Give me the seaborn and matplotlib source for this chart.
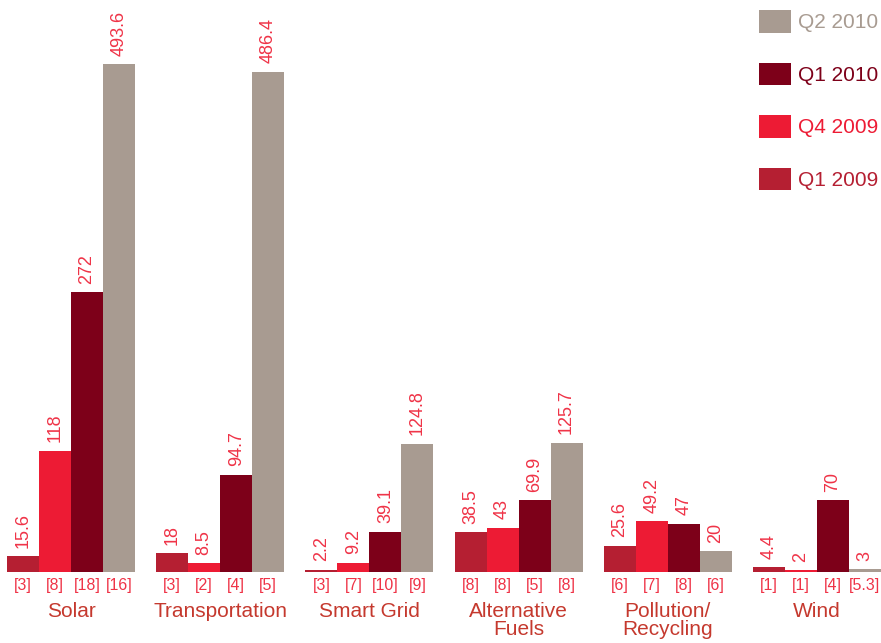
import matplotlib
matplotlib.use("Agg")
import matplotlib.pyplot as plt
import seaborn as sns
import pandas as pd
from matplotlib.patches import Patch

# ---- data ----
categories = ["Solar", "Transportation", "Smart Grid", "Alternative\nFuels", "Pollution/\nRecycling", "Wind"]
series = ["Q1 2009", "Q4 2009", "Q1 2010", "Q2 2010"]
q1_2009 = [15.6, 18, 2.2, 38.5, 25.6, 4.4]
q4_2009 = [118, 8.5, 9.2, 43, 49.2, 2]
q1_2010 = [272, 94.7, 39.1, 69.9, 47, 70]
q2_2010 = [493.6, 486.4, 124.8, 125.7, 20, 3]
n_q1_2009 = ["3", "3", "3", "8", "6", "1"]
n_q4_2009 = ["8", "2", "7", "8", "7", "1"]
n_q1_2010 = ["18", "4", "10", "5", "8", "4"]
n_q2_2010 = ["16", "5", "9", "8", "6", "5.3"]

values = [q1_2009, q4_2009, q1_2010, q2_2010]
counts = [n_q1_2009, n_q4_2009, n_q1_2010, n_q2_2010]
colors = ["#b51f32", "#ed1b34", "#7d0019", "#a89b91"]

rows = []
for s, vals in zip(series, values):
    for c, v in zip(categories, vals):
        rows.append({"category": c, "series": s, "value": v})
df = pd.DataFrame(rows)

sns.set_style("white")
plt.rcParams["font.family"] = ["Liberation Sans", "DejaVu Sans"]

fig = plt.figure(figsize=(8.81, 6.43), dpi=100)
ax = fig.add_axes([0, 71 / 643, 1, 572 / 643])

sns.barplot(data=df, x="category", y="value", hue="series", order=categories,
            hue_order=series, palette=colors, width=0.858, gap=0, saturation=1,
            errorbar=None, ax=ax, legend=False, linewidth=0)

ax.set_xlim(-0.476, 5.429)
ax.set_ylim(0, 555.9)
for sp in ax.spines.values():
    sp.set_visible(False)
ax.set_xticks([])
ax.set_yticks([])
ax.set_xlabel("")
ax.set_ylabel("")

label_color = "#ef3347"
cat_color = "#c5392e"
for cont, vals, cnts in zip(ax.containers, values, counts):
    for bar, v, n in zip(cont, vals, cnts):
        xc = bar.get_x() + bar.get_width() / 2
        h = bar.get_height()
        ax.annotate(f"{v:g}", xy=(xc, h), xytext=(0, 6), textcoords="offset points",
                    rotation=90, ha="center", va="bottom", fontsize=13,
                    color=label_color)
        ax.annotate(f"[{n}]", xy=(xc, 0), xytext=(0, -4), textcoords="offset points",
                    ha="center", va="top", fontsize=11.5, color=label_color,
                    annotation_clip=False)

for i, c in enumerate(categories):
    ax.annotate(c, xy=(i, 0), xytext=(0, -21.5), textcoords="offset points",
                ha="center", va="top", fontsize=15, color=cat_color,
                linespacing=0.97, annotation_clip=False)

handles = [Patch(facecolor=col, edgecolor="none") for col in colors][::-1]
leg = fig.legend(handles, series[::-1], loc="upper left",
                 bbox_to_anchor=(759 / 881, 1 - 10 / 643), frameon=False,
                 fontsize=15, handlelength=1.54, handleheight=1.3,
                 labelspacing=1.43, handletextpad=0.34, borderpad=0,
                 borderaxespad=0, labelcolor=colors[::-1])

fig.savefig("out.png", dpi=100)
